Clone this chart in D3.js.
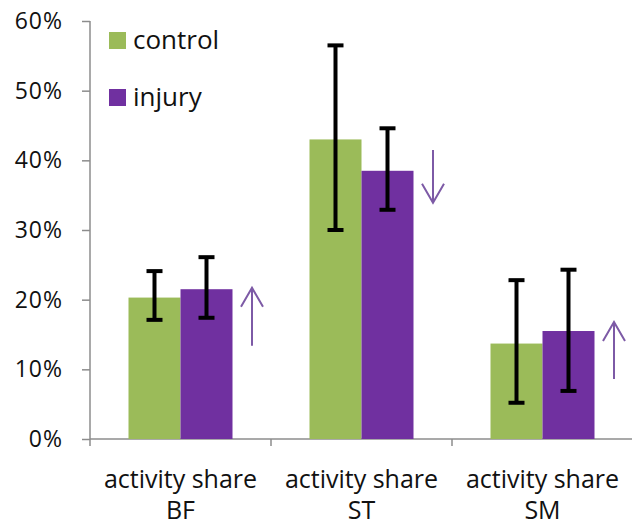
<!DOCTYPE html>
<html><head><meta charset="utf-8">
<script src="https://cdn.jsdelivr.net/npm/d3@7"></script>
<style>body{margin:0;background:#fff}svg{display:block}</style>
</head><body>
<svg id="c" width="632" height="528"></svg>
<script>
const categories = ["BF", "ST", "SM"];
const categoryLabel = "activity share";
const series = ["control", "injury"];
const controlValues = [20.3, 43.0, 13.7];
const controlErrLow = [17.1, 30.0, 5.2];
const controlErrHigh = [24.1, 56.5, 22.8];
const injuryValues = [21.5, 38.5, 15.5];
const injuryErrLow = [17.4, 32.9, 6.9];
const injuryErrHigh = [26.1, 44.6, 24.3];
const arrowFrom = [13.4, 41.5, 8.6];
const arrowTo = [21.7, 33.9, 16.8];
const yTicks = [0, 10, 20, 30, 40, 50, 60];

const colors = {control: "#9bbb59", injury: "#7030a0"};
const font = "'Open Sans', sans-serif";
const svg = d3.select("#c");

const y = d3.scaleLinear().domain([0, 60]).range([439, 21]);
const x0 = d3.scaleBand().domain(categories).range([90, 633]).padding(0);
const x1 = d3.scaleBand().domain(series).range([0, 104]).padding(0);

// y axis
const yAxis = svg.append("g").attr("transform", "translate(90,0)")
  .call(d3.axisLeft(y).tickValues(yTicks).tickSize(8).tickPadding(19).tickFormat(d => d + "%"));
yAxis.select(".domain").attr("stroke", "#8c8c8c").attr("stroke-width", 1.5).attr("d", "M0," + y(60) + "V" + y(0));
yAxis.selectAll(".tick line").attr("stroke", "#8c8c8c").attr("stroke-width", 1.5);
yAxis.selectAll(".tick text").attr("font-family", font).attr("font-size", 23)
  .attr("letter-spacing", 1).attr("fill", "#111");

// x axis
const xAxis = svg.append("g").attr("transform", "translate(0,439)");
xAxis.append("line").attr("x1", 90).attr("x2", 632).attr("y1", 0).attr("y2", 0)
  .attr("stroke", "#8c8c8c").attr("stroke-width", 1.5);
xAxis.selectAll("line.tk").data(categories).enter().append("line").attr("class", "tk")
  .attr("x1", d => x0(d)).attr("x2", d => x0(d)).attr("y1", 0).attr("y2", 7)
  .attr("stroke", "#8c8c8c").attr("stroke-width", 1.5);
const lbl = xAxis.selectAll("text.lb").data(categories).enter().append("text").attr("class", "lb")
  .attr("text-anchor", "middle").attr("font-family", font).attr("font-size", 25).attr("fill", "#111");
lbl.append("tspan").attr("x", d => x0(d) + x0.bandwidth() / 2).attr("y", 49).text(categoryLabel);
lbl.append("tspan").attr("x", d => x0(d) + x0.bandwidth() / 2).attr("y", 80).text(d => d);

const data = series.map(s => ({
  s,
  vals: categories.map((c, i) => ({
    c,
    v: s === "control" ? controlValues[i] : injuryValues[i],
    lo: s === "control" ? controlErrLow[i] : injuryErrLow[i],
    hi: s === "control" ? controlErrHigh[i] : injuryErrHigh[i]
  }))
}));

const gx = c => x0(c) + x0.bandwidth() / 2 - 52;

// bars
data.forEach(d => {
  svg.append("g").selectAll("rect").data(d.vals).enter().append("rect")
    .attr("x", v => gx(v.c) + x1(d.s))
    .attr("width", x1.bandwidth())
    .attr("y", v => y(v.v))
    .attr("height", v => y(0) - y(v.v))
    .attr("fill", colors[d.s]);
});

// error bars
data.forEach(d => {
  const g = svg.append("g").attr("stroke", "#000").attr("stroke-width", 4);
  d.vals.forEach(v => {
    const cx = gx(v.c) + x1(d.s) + x1.bandwidth() / 2;
    g.append("line").attr("x1", cx).attr("x2", cx).attr("y1", y(v.hi)).attr("y2", y(v.lo));
    g.append("line").attr("x1", cx - 8).attr("x2", cx + 8).attr("y1", y(v.hi)).attr("y2", y(v.hi));
    g.append("line").attr("x1", cx - 8).attr("x2", cx + 8).attr("y1", y(v.lo)).attr("y2", y(v.lo));
  });
});

// arrows
const ag = svg.append("g").attr("stroke", "#7d5aa6").attr("stroke-width", 2).attr("fill", "none");
categories.forEach((c, i) => {
  const ax = x0(c) + x0.bandwidth() / 2 + 71.5;
  const y1 = y(arrowFrom[i]), y2 = y(arrowTo[i]);
  const dir = y2 < y1 ? 1 : -1;
  ag.append("line").attr("x1", ax).attr("x2", ax).attr("y1", y1).attr("y2", y2);
  ag.append("path").attr("d", `M${ax - 11},${y2 + dir * 19}L${ax},${y2}L${ax + 11},${y2 + dir * 19}`);
});

// legend
const leg = svg.append("g");
series.forEach((s, i) => {
  const ly = 32 + i * 57;
  leg.append("rect").attr("x", 109).attr("y", ly).attr("width", 17).attr("height", 17).attr("fill", colors[s]);
  leg.append("text").attr("x", 133).attr("y", ly + 17).attr("font-family", font).attr("font-size", 26)
    .attr("fill", "#111").text(s);
});
</script>
</body></html>
